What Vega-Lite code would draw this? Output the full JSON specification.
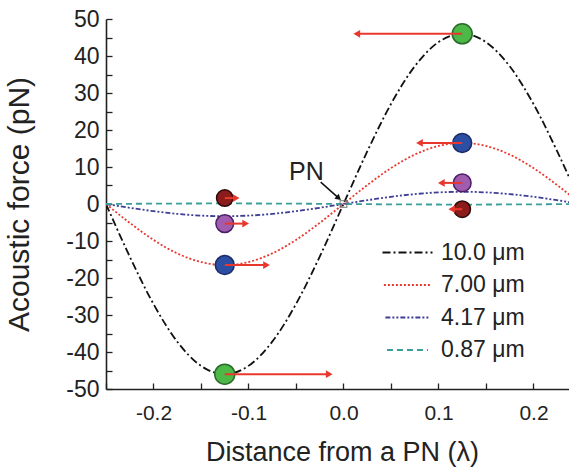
{
  "$schema": "https://vega.github.io/schema/vega-lite/v6.json",
  "width": 463,
  "height": 370,
  "autosize": "none",
  "padding": {"left": 106, "top": 19, "right": 0, "bottom": 84},
  "background": "white",
  "config": {
    "view": {"stroke": null},
    "font": "Liberation Sans",
    "axis": {"labelOverlap": false, "labelFlush": false, "grid": false, "tickSize": -6, "tickColor": "#222", "tickWidth": 1.3, "domainColor": "#222", "domainWidth": 1.6, "labelColor": "#222", "titleColor": "#222", "titleFontWeight": "normal", "labelFont": "Liberation Sans", "titleFont": "Liberation Sans"},
    "axisX": {"labelFontSize": 21, "labelPadding": 19, "titleFontSize": 27, "titlePadding": 16},
    "axisY": {"labelFontSize": 23, "labelPadding": 13, "titleFontSize": 30, "titlePadding": 31}
  },
  "datasets": {
    "curves": [
      {"s": "10.0 μm", "x": -0.25, "y": 0}, {"s": "10.0 μm", "x": -0.225, "y": -14.21}, {"s": "10.0 μm", "x": -0.2, "y": -27.04}, {"s": "10.0 μm", "x": -0.175, "y": -37.21}, {"s": "10.0 μm", "x": -0.15, "y": -43.75}, {"s": "10.0 μm", "x": -0.125, "y": -46}, {"s": "10.0 μm", "x": -0.1, "y": -43.75}, {"s": "10.0 μm", "x": -0.075, "y": -37.21}, {"s": "10.0 μm", "x": -0.05, "y": -27.04}, {"s": "10.0 μm", "x": -0.025, "y": -14.21}, {"s": "10.0 μm", "x": 0, "y": 0}, {"s": "10.0 μm", "x": 0.025, "y": 14.21}, {"s": "10.0 μm", "x": 0.05, "y": 27.04}, {"s": "10.0 μm", "x": 0.075, "y": 37.21}, {"s": "10.0 μm", "x": 0.1, "y": 43.75}, {"s": "10.0 μm", "x": 0.125, "y": 46}, {"s": "10.0 μm", "x": 0.15, "y": 43.75}, {"s": "10.0 μm", "x": 0.175, "y": 37.21}, {"s": "10.0 μm", "x": 0.2, "y": 27.04}, {"s": "10.0 μm", "x": 0.225, "y": 14.21}, {"s": "10.0 μm", "x": 0.25, "y": 0},
      {"s": "7.00 μm", "x": -0.25, "y": 0}, {"s": "7.00 μm", "x": -0.225, "y": -5.1}, {"s": "7.00 μm", "x": -0.2, "y": -9.7}, {"s": "7.00 μm", "x": -0.175, "y": -13.35}, {"s": "7.00 μm", "x": -0.15, "y": -15.69}, {"s": "7.00 μm", "x": -0.125, "y": -16.5}, {"s": "7.00 μm", "x": -0.1, "y": -15.69}, {"s": "7.00 μm", "x": -0.075, "y": -13.35}, {"s": "7.00 μm", "x": -0.05, "y": -9.7}, {"s": "7.00 μm", "x": -0.025, "y": -5.1}, {"s": "7.00 μm", "x": 0, "y": 0}, {"s": "7.00 μm", "x": 0.025, "y": 5.1}, {"s": "7.00 μm", "x": 0.05, "y": 9.7}, {"s": "7.00 μm", "x": 0.075, "y": 13.35}, {"s": "7.00 μm", "x": 0.1, "y": 15.69}, {"s": "7.00 μm", "x": 0.125, "y": 16.5}, {"s": "7.00 μm", "x": 0.15, "y": 15.69}, {"s": "7.00 μm", "x": 0.175, "y": 13.35}, {"s": "7.00 μm", "x": 0.2, "y": 9.7}, {"s": "7.00 μm", "x": 0.225, "y": 5.1}, {"s": "7.00 μm", "x": 0.25, "y": 0},
      {"s": "4.17 μm", "x": -0.25, "y": 0}, {"s": "4.17 μm", "x": -0.225, "y": -1.02}, {"s": "4.17 μm", "x": -0.2, "y": -1.94}, {"s": "4.17 μm", "x": -0.175, "y": -2.67}, {"s": "4.17 μm", "x": -0.15, "y": -3.14}, {"s": "4.17 μm", "x": -0.125, "y": -3.3}, {"s": "4.17 μm", "x": -0.1, "y": -3.14}, {"s": "4.17 μm", "x": -0.075, "y": -2.67}, {"s": "4.17 μm", "x": -0.05, "y": -1.94}, {"s": "4.17 μm", "x": -0.025, "y": -1.02}, {"s": "4.17 μm", "x": 0, "y": 0}, {"s": "4.17 μm", "x": 0.025, "y": 1.02}, {"s": "4.17 μm", "x": 0.05, "y": 1.94}, {"s": "4.17 μm", "x": 0.075, "y": 2.67}, {"s": "4.17 μm", "x": 0.1, "y": 3.14}, {"s": "4.17 μm", "x": 0.125, "y": 3.3}, {"s": "4.17 μm", "x": 0.15, "y": 3.14}, {"s": "4.17 μm", "x": 0.175, "y": 2.67}, {"s": "4.17 μm", "x": 0.2, "y": 1.94}, {"s": "4.17 μm", "x": 0.225, "y": 1.02}, {"s": "4.17 μm", "x": 0.25, "y": 0},
      {"s": "0.87 μm", "x": -0.25, "y": 0}, {"s": "0.87 μm", "x": -0.225, "y": 0.05}, {"s": "0.87 μm", "x": -0.2, "y": 0.09}, {"s": "0.87 μm", "x": -0.175, "y": 0.12}, {"s": "0.87 μm", "x": -0.15, "y": 0.14}, {"s": "0.87 μm", "x": -0.125, "y": 0.15}, {"s": "0.87 μm", "x": -0.1, "y": 0.14}, {"s": "0.87 μm", "x": -0.075, "y": 0.12}, {"s": "0.87 μm", "x": -0.05, "y": 0.09}, {"s": "0.87 μm", "x": -0.025, "y": 0.05}, {"s": "0.87 μm", "x": 0, "y": 0}, {"s": "0.87 μm", "x": 0.025, "y": -0.05}, {"s": "0.87 μm", "x": 0.05, "y": -0.09}, {"s": "0.87 μm", "x": 0.075, "y": -0.12}, {"s": "0.87 μm", "x": 0.1, "y": -0.14}, {"s": "0.87 μm", "x": 0.125, "y": -0.15}, {"s": "0.87 μm", "x": 0.15, "y": -0.14}, {"s": "0.87 μm", "x": 0.175, "y": -0.12}, {"s": "0.87 μm", "x": 0.2, "y": -0.09}, {"s": "0.87 μm", "x": 0.225, "y": -0.05}, {"s": "0.87 μm", "x": 0.25, "y": 0}
    ],
    "dots": [
      {"s": "10.0 μm", "x": 0.125, "y": 46}, {"s": "10.0 μm", "x": -0.125, "y": -46},
      {"s": "7.00 μm", "x": 0.125, "y": 16.5}, {"s": "7.00 μm", "x": -0.125, "y": -16.5},
      {"s": "4.17 μm", "x": 0.125, "y": 5.7}, {"s": "4.17 μm", "x": -0.125, "y": -5.3},
      {"s": "0.87 μm", "x": 0.125, "y": -1.4}, {"s": "0.87 μm", "x": -0.125, "y": 1.6}
    ],
    "arrows": [
      {"x": 0.125, "x2": 0.014, "y": 46, "dir": "left"}, {"x": -0.125, "x2": -0.015, "y": -46, "dir": "right"},
      {"x": 0.125, "x2": 0.08, "y": 16.5, "dir": "left"}, {"x": -0.125, "x2": -0.081, "y": -16.5, "dir": "right"},
      {"x": 0.125, "x2": 0.103, "y": 5.7, "dir": "left"}, {"x": -0.125, "x2": -0.103, "y": -5.3, "dir": "right"},
      {"x": 0.125, "x2": 0.114, "y": -1.4, "dir": "left"}, {"x": -0.125, "x2": -0.113, "y": 1.6, "dir": "right"}
    ],
    "pn": [{"x": -0.039, "y": 8.6, "t": "PN", "x1": -0.024, "y1": 5.9, "x2": -0.005, "y2": 1.6}],
    "node": [{"x": 0, "y": 0}]
  },
  "layer": [
    {
      "data": {"name": "curves"},
      "mark": {"type": "line", "interpolate": "monotone", "strokeWidth": 1.8, "clip": true},
      "encoding": {
        "x": {
          "field": "x", "type": "quantitative",
          "scale": {"domain": [-0.25, 0.2374], "nice": false, "zero": false},
          "axis": {
            "values": [-0.25, -0.2, -0.15, -0.1, -0.05, 0, 0.05, 0.1, 0.15, 0.2],
            "tickCount": 30,
            "labelExpr": "abs(round(datum.value*100)) % 10 === 0 ? (datum.value < 0 ? '-' : '') + format(abs(datum.value), '.1f') : ''",
            "title": "Distance from a PN (λ)",
            "titleX": 236, "titleAnchor": "middle",
            "encode": {"ticks": {"update": {"y2": {"signal": "abs(round(datum.value*100)) % 10 === 0 ? -6 : -3.5"}}}}
          }
        },
        "y": {
          "field": "y", "type": "quantitative",
          "scale": {"domain": [-50, 50], "nice": false},
          "axis": {
            "values": [-50, -45, -40, -35, -30, -25, -20, -15, -10, -5, 0, 5, 10, 15, 20, 25, 30, 35, 40, 45, 50],
            "tickCount": 30,
            "labelExpr": "datum.value % 10 === 0 ? (datum.value < 0 ? '-' : '') + abs(datum.value) : ''",
            "labelOverlap": false,
            "title": "Acoustic force (pN)",
            "encode": {"ticks": {"update": {"x2": {"signal": "datum.value % 10 === 0 ? 6 : 3.5"}}}}
          }
        },
        "color": {
          "field": "s", "type": "nominal",
          "scale": {"domain": ["10.0 μm", "7.00 μm", "4.17 μm", "0.87 μm"], "range": ["#111111", "#e8382e", "#3d3f96", "#3a9e9a"]},
          "legend": {"orient": "none", "legendX": 290, "legendY": 222, "title": null, "padding": 0, "labelFontSize": 23, "labelColor": "#222", "labelFont": "Liberation Sans", "symbolType": "M-2.5,0H2.5", "symbolSize": 529, "symbolStrokeWidth": 2, "labelOffset": 22, "rowPadding": 8.5}
        },
        "strokeDash": {
          "field": "s", "type": "nominal",
          "scale": {"domain": ["10.0 μm", "7.00 μm", "4.17 μm", "0.87 μm"], "range": [[8, 3, 2, 3], [2, 2], [5, 2, 2, 2, 2, 2], [6, 4]]},
          "legend": {"orient": "none", "legendX": 290, "legendY": 222, "title": null, "padding": 0, "labelFontSize": 23, "labelColor": "#222", "labelFont": "Liberation Sans", "symbolType": "M-2.5,0H2.5", "symbolSize": 529, "symbolStrokeWidth": 2, "labelOffset": 22, "rowPadding": 8.5}
        }
      }
    },
    {
      "mark": {"type": "rule", "color": "#222", "strokeWidth": 1.8},
      "encoding": {"y": {"datum": 50, "type": "quantitative", "scale": {"domain": [-50, 50], "nice": false}}}
    },
    {
      "data": {"name": "node"},
      "mark": {"type": "point", "shape": "square", "filled": false, "size": 45, "stroke": "#666", "strokeWidth": 1.2},
      "encoding": {
        "x": {"field": "x", "type": "quantitative"},
        "y": {"field": "y", "type": "quantitative"}
      }
    },
    {
      "data": {"name": "dots"},
      "mark": {"type": "point", "filled": true, "opacity": 1, "strokeWidth": 1.5},
      "encoding": {
        "x": {"field": "x", "type": "quantitative"},
        "y": {"field": "y", "type": "quantitative"},
        "fill": {"field": "s", "type": "nominal", "scale": {"domain": ["10.0 μm", "7.00 μm", "4.17 μm", "0.87 μm"], "range": ["#4cb848", "#2c4fa3", "#a05cae", "#8c1c1c"]}, "legend": null},
        "stroke": {"field": "s", "type": "nominal", "scale": {"domain": ["10.0 μm", "7.00 μm", "4.17 μm", "0.87 μm"], "range": ["#2a6a2a", "#1a2c66", "#4a1f66", "#2a0a0a"]}, "legend": null},
        "size": {"field": "s", "type": "ordinal", "scale": {"domain": ["10.0 μm", "7.00 μm", "4.17 μm", "0.87 μm"], "range": [400, 270, 90, 40]}, "legend": null}
      }
    },
    {
      "data": {"name": "arrows"},
      "mark": {"type": "rule", "color": "#e8382e", "strokeWidth": 2},
      "encoding": {
        "x": {"field": "x", "type": "quantitative"},
        "x2": {"field": "x2"},
        "y": {"field": "y", "type": "quantitative"}
      }
    },
    {
      "data": {"name": "arrows"},
      "mark": {"type": "point", "filled": true, "color": "#e8382e", "opacity": 1, "size": 60},
      "encoding": {
        "x": {"field": "x2", "type": "quantitative"},
        "y": {"field": "y", "type": "quantitative"},
        "shape": {"field": "dir", "type": "nominal", "scale": {"domain": ["left", "right"], "range": ["triangle-left", "triangle-right"]}, "legend": null}
      }
    },
    {
      "data": {"name": "pn"},
      "mark": {"type": "text", "fontSize": 25, "color": "#222", "font": "Liberation Sans"},
      "encoding": {
        "x": {"field": "x", "type": "quantitative"},
        "y": {"field": "y", "type": "quantitative"},
        "text": {"field": "t"}
      }
    },
    {
      "data": {"name": "pn"},
      "mark": {"type": "rule", "color": "#111", "strokeWidth": 1.5},
      "encoding": {
        "x": {"field": "x1", "type": "quantitative"},
        "y": {"field": "y1", "type": "quantitative"},
        "x2": {"field": "x2"},
        "y2": {"field": "y2"}
      }
    },
    {
      "data": {"name": "pn"},
      "mark": {"type": "point", "shape": "triangle-right", "filled": true, "color": "#111", "opacity": 1, "size": 45, "angle": 40},
      "encoding": {
        "x": {"field": "x2", "type": "quantitative"},
        "y": {"field": "y2", "type": "quantitative"}
      }
    }
  ]
}
